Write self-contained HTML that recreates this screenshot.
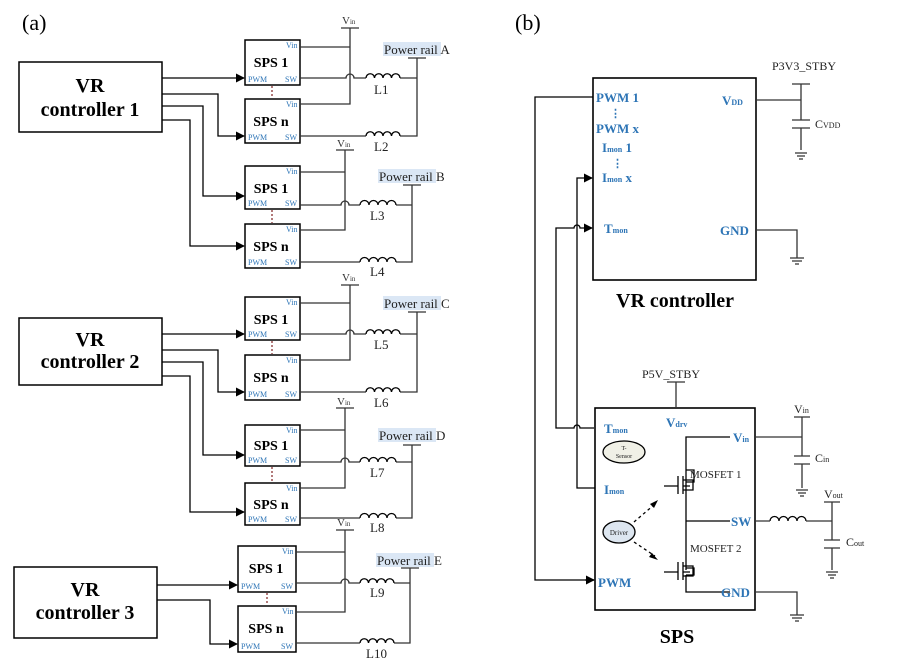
<!DOCTYPE html>
<html><head><meta charset="utf-8"><style>
body{margin:0;background:#fff}
svg{display:block}
text{font-family:"Liberation Serif",serif}
.b{fill:#2e75b6}
.t{font-weight:bold}
</style></head><body>
<svg width="900" height="664" viewBox="0 0 900 664" xmlns="http://www.w3.org/2000/svg">
<defs>
<marker id="ar" viewBox="0 0 10 10" refX="9" refY="5" markerWidth="7" markerHeight="7" orient="auto"><path d="M0 0L10 5L0 10z" fill="#000"/></marker>
</defs>
<text x="22" y="30" font-size="22">(a)</text>
<text x="515" y="30" font-size="22">(b)</text>

<g fill="none" stroke="#333" stroke-width="1.3">
<rect x="19" y="62" width="143" height="70" stroke="#000" stroke-width="1.5"/>
<rect x="19" y="318" width="143" height="67" stroke="#000" stroke-width="1.5"/>
<rect x="14" y="567" width="143" height="71" stroke="#000" stroke-width="1.5"/>
<g stroke="#000" stroke-width="1.5">
<rect x="245" y="40" width="55" height="45"/><rect x="245" y="99" width="55" height="44"/>
<rect x="245" y="166" width="55" height="43"/><rect x="245" y="224" width="55" height="44"/>
<rect x="245" y="297" width="55" height="43"/><rect x="245" y="355" width="55" height="45"/>
<rect x="245" y="425" width="55" height="41"/><rect x="245" y="483" width="55" height="42"/>
<rect x="238" y="546" width="58" height="46"/><rect x="238" y="606" width="58" height="46"/>
</g>
<g stroke="#000" marker-end="url(#ar)">
<path d="M162 78H244"/><path d="M162 94H218V136H244"/><path d="M162 106H203V196H244"/><path d="M162 120H190V246H244"/>
<path d="M162 334H244"/><path d="M162 350H218V392H244"/><path d="M162 362H203V455H244"/><path d="M162 376H190V512H244"/>
<path d="M157 585H237"/><path d="M157 600H210V644H237"/>
</g>
<g stroke="#833" stroke-dasharray="2 2"><path d="M272 86V98M272 210V223M272 341V354M272 467V482M267 593V605"/></g>
<path d="M350 28V104H300M300 47H350M341 28H359"/>
<path d="M300 78H346a4 4 0 0 1 8 0H366M400 78H417V136H400M300 136H366M408 58H426M417 58V78"/>
<path d="M345 150V230H300M300 172H345M336 150H354"/>
<path d="M300 205H341a4 4 0 0 1 8 0H360M396 205H412V262H396M300 262H360M403 185H421M412 185V205"/>
<path d="M350 285V360H300M300 303H350M341 285H359"/>
<path d="M300 334H346a4 4 0 0 1 8 0H366M400 334H417V392H400M300 392H366M408 312H426M417 312V334"/>
<path d="M345 408V488H300M300 430H345M336 408H354"/>
<path d="M300 462H341a4 4 0 0 1 8 0H360M396 462H412V518H396M300 518H360M403 445H421M412 445V462"/>
<path d="M345 530V612H296M296 552H345M336 530H354"/>
<path d="M296 583H341a4 4 0 0 1 8 0H360M394 583H410V643H394M296 643H360M401 568H419M410 568V583"/>
<g stroke="#000">
<path d="M366 78a4.25 4.25 0 0 1 8.5 0a4.25 4.25 0 0 1 8.5 0a4.25 4.25 0 0 1 8.5 0a4.25 4.25 0 0 1 8.5 0"/>
<path d="M366 136a4.25 4.25 0 0 1 8.5 0a4.25 4.25 0 0 1 8.5 0a4.25 4.25 0 0 1 8.5 0a4.25 4.25 0 0 1 8.5 0"/>
<path d="M360 205a4.5 4.5 0 0 1 9 0a4.5 4.5 0 0 1 9 0a4.5 4.5 0 0 1 9 0a4.5 4.5 0 0 1 9 0"/>
<path d="M360 262a4.5 4.5 0 0 1 9 0a4.5 4.5 0 0 1 9 0a4.5 4.5 0 0 1 9 0a4.5 4.5 0 0 1 9 0"/>
<path d="M366 334a4.25 4.25 0 0 1 8.5 0a4.25 4.25 0 0 1 8.5 0a4.25 4.25 0 0 1 8.5 0a4.25 4.25 0 0 1 8.5 0"/>
<path d="M366 392a4.25 4.25 0 0 1 8.5 0a4.25 4.25 0 0 1 8.5 0a4.25 4.25 0 0 1 8.5 0a4.25 4.25 0 0 1 8.5 0"/>
<path d="M360 462a4.5 4.5 0 0 1 9 0a4.5 4.5 0 0 1 9 0a4.5 4.5 0 0 1 9 0a4.5 4.5 0 0 1 9 0"/>
<path d="M360 518a4.5 4.5 0 0 1 9 0a4.5 4.5 0 0 1 9 0a4.5 4.5 0 0 1 9 0a4.5 4.5 0 0 1 9 0"/>
<path d="M360 583a4.25 4.25 0 0 1 8.5 0a4.25 4.25 0 0 1 8.5 0a4.25 4.25 0 0 1 8.5 0a4.25 4.25 0 0 1 8.5 0"/>
<path d="M360 643a4.25 4.25 0 0 1 8.5 0a4.25 4.25 0 0 1 8.5 0a4.25 4.25 0 0 1 8.5 0a4.25 4.25 0 0 1 8.5 0"/>
<path d="M770 521a4.5 4.5 0 0 1 9 0a4.5 4.5 0 0 1 9 0a4.5 4.5 0 0 1 9 0a4.5 4.5 0 0 1 9 0"/>
</g>

<rect x="593" y="78" width="163" height="202" stroke="#000" stroke-width="1.6"/>
<rect x="595" y="408" width="160" height="202" stroke="#000" stroke-width="1.6"/>
<path d="M593 97H535V580H594" stroke="#000"/>
<path d="M585 580H594" stroke="#000" marker-end="url(#ar)"/>
<path d="M594 428H580a3 3 0 0 0 -6 0H556V228H574a3 3 0 0 1 6 0H592" stroke="#000" marker-end="url(#ar)"/>
<path d="M595 488H577V178H592" stroke="#000" marker-end="url(#ar)"/>
<path d="M756 100H801M792 84H810M801 84V120M801 128V150M792 120H810M792 128H810M795 153H807M797 156H805M799 159H803"/>
<path d="M756 230H797V258M790 258H804M792 261H802M795 264H799"/>
<path d="M676 382V408M667 382H685"/>
<path d="M755 437H802M794 417H810M802 417V456M802 464V488M794 456H810M794 464H810M796 490H808M798 493H806M800 496H804"/>
<path d="M755 521H770M806 521H832M824 502H840M832 502V540M832 548V570M824 540H840M824 548H840M826 572H838M828 575H836M830 578H834"/>
<path d="M755 592H797V615M790 615H804M792 618H802M795 621H799"/>
<path d="M730 437H686V482M686 470H694V482H686M686 521H730M686 482V521M686 521V540M686 540V570M686 568H694V575H686M686 575V592H730" stroke="#000"/>
<path d="M664 486H678M678 476V494M683 476V494M683 480H693V490H683M683 486H690" stroke="#000"/>
<path d="M664 572H678M678 562V580M683 562V580M683 566H693V576H683M683 572H690" stroke="#000"/>
<path d="M634 522L655 504M634 542L655 556" stroke="#000" stroke-dasharray="3 3"/>
<ellipse cx="624" cy="452" rx="21" ry="11" fill="#f0f0e6" stroke="#000"/>
<ellipse cx="619" cy="532" rx="16" ry="11" fill="#dde6f0" stroke="#000"/>
</g>
<path d="M658 500L650 504L654 508z" fill="#000"/><path d="M658 560L649 557L652 553z" fill="#000"/>

<g class="t" text-anchor="middle" font-size="20">
<text x="90" y="92">VR</text><text x="90" y="116">controller 1</text>
<text x="90" y="346">VR</text><text x="90" y="368">controller 2</text>
<text x="85" y="596">VR</text><text x="85" y="619">controller 3</text>
</g>
<g class="t" font-size="14" text-anchor="middle">
<text x="271" y="67">SPS 1</text><text x="271" y="126">SPS n</text>
<text x="271" y="193">SPS 1</text><text x="271" y="251">SPS n</text>
<text x="271" y="324">SPS 1</text><text x="271" y="382">SPS n</text>
<text x="271" y="450">SPS 1</text><text x="271" y="509">SPS n</text>
<text x="266" y="573">SPS 1</text><text x="266" y="633">SPS n</text>
</g>
<g class="b" font-size="8">
<text x="248" y="82">PWM</text><text x="285" y="82">SW</text><text x="286" y="48">Vin</text>
<text x="248" y="140">PWM</text><text x="285" y="140">SW</text><text x="286" y="107">Vin</text>
<text x="248" y="206">PWM</text><text x="285" y="206">SW</text><text x="286" y="174">Vin</text>
<text x="248" y="265">PWM</text><text x="285" y="265">SW</text><text x="286" y="232">Vin</text>
<text x="248" y="337">PWM</text><text x="285" y="337">SW</text><text x="286" y="305">Vin</text>
<text x="248" y="397">PWM</text><text x="285" y="397">SW</text><text x="286" y="363">Vin</text>
<text x="248" y="463">PWM</text><text x="285" y="463">SW</text><text x="286" y="433">Vin</text>
<text x="248" y="522">PWM</text><text x="285" y="522">SW</text><text x="286" y="491">Vin</text>
<text x="241" y="589">PWM</text><text x="281" y="589">SW</text><text x="282" y="554">Vin</text>
<text x="241" y="649">PWM</text><text x="281" y="649">SW</text><text x="282" y="614">Vin</text>
</g>
<g font-size="11" fill="#333">
<text x="342" y="24">V<tspan font-size="7">in</tspan></text>
<text x="337" y="147">V<tspan font-size="7">in</tspan></text>
<text x="342" y="281">V<tspan font-size="7">in</tspan></text>
<text x="337" y="405">V<tspan font-size="7">in</tspan></text>
<text x="337" y="526">V<tspan font-size="7">in</tspan></text>
</g>
<g font-size="13" fill="#222">
<rect x="383" y="42" width="58" height="14" fill="#dbe7f5"/><text x="384" y="54">Power rail A</text>
<rect x="378" y="169" width="58" height="14" fill="#dbe7f5"/><text x="379" y="181">Power rail B</text>
<rect x="383" y="296" width="58" height="14" fill="#dbe7f5"/><text x="384" y="308">Power rail C</text>
<rect x="378" y="428" width="58" height="14" fill="#dbe7f5"/><text x="379" y="440">Power rail D</text>
<rect x="376" y="553" width="58" height="14" fill="#dbe7f5"/><text x="377" y="565">Power rail E</text>
<text x="374" y="94">L1</text><text x="374" y="151">L2</text><text x="370" y="220">L3</text><text x="370" y="276">L4</text>
<text x="374" y="349">L5</text><text x="374" y="407">L6</text><text x="370" y="477">L7</text><text x="370" y="532">L8</text>
<text x="370" y="597">L9</text><text x="366" y="658">L10</text>
</g>

<g class="b t" font-size="13">
<text x="596" y="102">PWM 1</text><text x="610" y="117" font-size="11">⋮</text>
<text x="596" y="133">PWM x</text>
<text x="602" y="152">I<tspan font-size="8">mon</tspan> 1</text><text x="612" y="167" font-size="11">⋮</text>
<text x="602" y="182">I<tspan font-size="8">mon</tspan> x</text>
<text x="604" y="233">T<tspan font-size="8">mon</tspan></text>
<text x="722" y="105">V<tspan font-size="8">DD</tspan></text>
<text x="720" y="235">GND</text>
<text x="604" y="433">T<tspan font-size="8">mon</tspan></text>
<text x="666" y="427">V<tspan font-size="8">drv</tspan></text>
<text x="604" y="494">I<tspan font-size="8">mon</tspan></text>
<text x="598" y="587">PWM</text>
<text x="733" y="442">V<tspan font-size="8">in</tspan></text>
<text x="731" y="526">SW</text>
<text x="721" y="597">GND</text>
</g>
<g font-size="12" fill="#222">
<text x="772" y="70">P3V3_STBY</text>
<text x="815" y="128">C<tspan font-size="8">VDD</tspan></text>
<text x="642" y="378">P5V_STBY</text>
<text x="794" y="413">V<tspan font-size="8">in</tspan></text>
<text x="815" y="462">C<tspan font-size="8">in</tspan></text>
<text x="824" y="498">V<tspan font-size="8">out</tspan></text>
<text x="846" y="546">C<tspan font-size="8">out</tspan></text>
<text x="690" y="478" font-size="11">MOSFET 1</text>
<text x="690" y="552" font-size="11">MOSFET 2</text>
<text x="624" y="450" font-size="6" text-anchor="middle">T-</text>
<text x="624" y="458" font-size="6" text-anchor="middle">Sensor</text>
<text x="619" y="535" font-size="7" text-anchor="middle">Driver</text>
</g>
<g class="t" font-size="20" text-anchor="middle">
<text x="675" y="307">VR controller</text>
<text x="677" y="643">SPS</text>
</g>
</svg>
</body></html>
